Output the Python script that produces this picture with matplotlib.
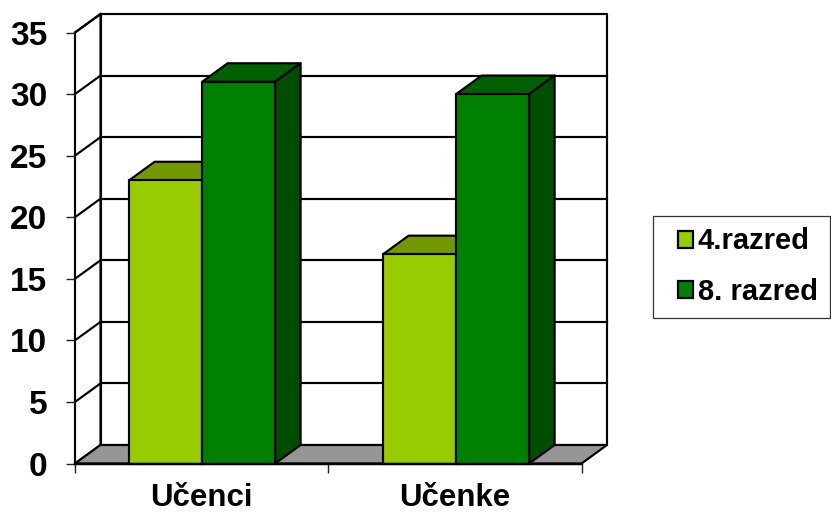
import matplotlib
matplotlib.use("Agg")
import matplotlib.pyplot as plt
from matplotlib.patches import Polygon, Rectangle, Patch

categories = ["Učenci", "Učenke"]
series_names = ["4.razred", "8. razred"]
razred4 = [23, 17]
razred8 = [31, 30]
y_ticks = [0, 5, 10, 15, 20, 25, 30, 35]

W, H = 831, 514
plt.rcParams["font.family"] = ["Liberation Sans", "DejaVu Sans"]
plt.rcParams["font.weight"] = "bold"

fig = plt.figure(figsize=(W / 100, H / 100), dpi=100, facecolor="white")
L, R, T, B = 75, 581.5, 32.5, 463.5
ax = fig.add_axes([L / W, 1 - B / H, (R - L) / W, (B - T) / H])
ax.set_xlim(0, 2)
ax.set_ylim(0, 35)
ax.patch.set_visible(False)
for s in ax.spines.values():
    s.set_visible(False)

DX = 25.5 / 253.25   # depth offset in category units
DY = 18.5 / (431 / 35)  # depth offset in value units
BW = 73 / 253.25
LW = 1.55
EDGE = "black"
CENTERS = [0.502, 1.505]

def poly(pts, fc, z):
    ax.add_patch(Polygon(pts, closed=True, fc=fc, ec=EDGE, lw=LW, zorder=z,
                         clip_on=False, joinstyle="round"))

# Back wall, side wall and floor
ymax = y_ticks[-1]
poly([(DX, DY), (2 + DX, DY), (2 + DX, ymax + DY), (DX, ymax + DY)], "white", 1)
poly([(0, 0), (DX, DY), (DX, ymax + DY), (0, ymax)], "white", 1)
poly([(0, 0), (2, 0), (2 + DX, DY), (DX, DY)], "#969696", 2)
for v in y_ticks[1:-1]:
    ax.plot([DX, 2 + DX], [v + DY, v + DY], color=EDGE, lw=LW, zorder=1.5, clip_on=False)
for v in y_ticks[1:]:
    ax.plot([0, DX], [v, v + DY], color=EDGE, lw=LW, zorder=1.5, clip_on=False)


def bar3d(x0, v, front, top, side, z):
    poly([(x0, v), (x0 + BW, v), (x0 + BW + DX, v + DY), (x0 + DX, v + DY)], top, z)
    poly([(x0 + BW, 0), (x0 + BW + DX, DY), (x0 + BW + DX, v + DY), (x0 + BW, v)], side, z)
    ax.bar(x0, v, width=BW, align="edge", color=front, edgecolor=EDGE, lw=LW,
           zorder=z + 0.1, clip_on=False)


for i in range(len(categories)):
    c = CENTERS[i]
    bar3d(c - BW, razred4[i], "#99CC00", "#739900", "#5C7A00", 3 + i)
    bar3d(c, razred8[i], "#008000", "#006000", "#004D00", 3.5 + i)

ax.plot([0, 2], [0, 0], color=EDGE, lw=LW + 0.2, zorder=8, clip_on=False)

ax.set_yticks(y_ticks)
ax.set_xticks([0, 1, 2])
ax.set_xticklabels([])
ax.set_xticks([0.5, 1.5], minor=True)
ax.set_xticklabels(categories, minor=True)
ax.tick_params(axis="y", length=6.5, width=1.0, pad=13.5, labelsize=24, color="#222222")
ax.tick_params(axis="x", which="major", length=6.5, width=1.0, color="#222222")
ax.tick_params(axis="x", which="minor", length=0, pad=14, labelsize=22.5)
for t in ax.get_yticklabels() + ax.get_xticklabels(minor=True):
    t.set_fontweight("bold")

# Legend box runs to the right edge of the picture
fig.add_artist(Rectangle((652.7 / W, 1 - 317.7 / H), 177.5 / W, 101.7 / H,
                         transform=fig.transFigure, fc="white", ec="#333333", lw=0.9))
handles = [Patch(fc="#99CC00", ec="black", lw=1.6), Patch(fc="#008000", ec="black", lw=1.6)]
leg = fig.legend(handles, series_names, frameon=False,
                 loc="center left", bbox_to_anchor=(677.5 / W, 1 - 266.5 / H),
                 borderaxespad=0, borderpad=0, handlelength=0.52, handleheight=0.52,
                 handletextpad=0.17, labelspacing=0.76, prop={"size": 21, "weight": "bold"})

fig.savefig("out.png", dpi=100, facecolor="white")
